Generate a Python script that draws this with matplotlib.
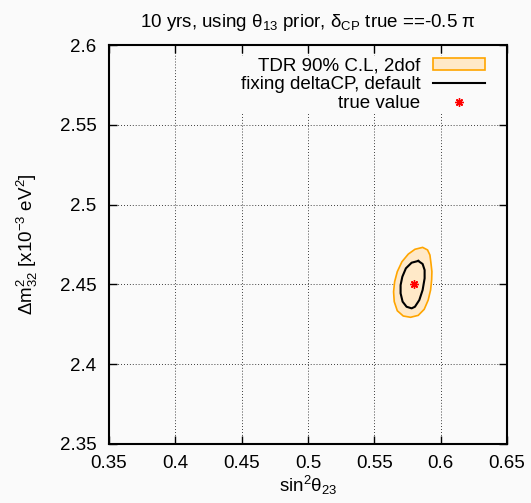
import matplotlib
matplotlib.use("Agg")
import matplotlib.pyplot as plt
from matplotlib.ticker import FuncFormatter

plt.rcParams['font.family'] = ['Liberation Sans', 'DejaVu Sans']
plt.rcParams['mathtext.fontset'] = 'custom'
plt.rcParams['mathtext.rm'] = 'Liberation Sans'
plt.rcParams['mathtext.it'] = 'Liberation Sans'
plt.rcParams['mathtext.default'] = 'rm'

# 90% C.L. contour from TDR (sin^2 theta23, dm2_32)
tdr_x = [0.5864, 0.5901, 0.5919, 0.5927, 0.5934, 0.5932, 0.5924, 0.5906, 0.5876, 0.5831,
         0.5773, 0.5718, 0.5673, 0.5650, 0.5645, 0.5653, 0.5673, 0.5708, 0.5756, 0.5806, 0.5864]
tdr_y = [2.4732, 2.4716, 2.4684, 2.4632, 2.4580, 2.4528, 2.4465, 2.4402, 2.4344, 2.4306,
         2.4294, 2.4302, 2.4335, 2.4392, 2.4454, 2.4517, 2.4580, 2.4642, 2.4690, 2.4720, 2.4732]

# fixing deltaCP, default
fix_x = [0.5831, 0.5864, 0.5879, 0.5879, 0.5864, 0.5839, 0.5806, 0.5781,
         0.5743, 0.5713, 0.5698, 0.5698, 0.5711, 0.5738, 0.5781, 0.5831]
fix_y = [2.4647, 2.4628, 2.4590, 2.4538, 2.4465, 2.4402, 2.4360, 2.4350,
         2.4360, 2.4392, 2.4444, 2.4496, 2.4548, 2.4601, 2.4636, 2.4647]

true_x = [0.58]
true_y = [2.45]

xticks = [0.35, 0.4, 0.45, 0.5, 0.55, 0.6, 0.65]
yticks = [2.35, 2.4, 2.45, 2.5, 2.55, 2.6]

fs = 13.5
bg = '#fafafa'
fig = plt.figure(figsize=(5.31, 5.03), dpi=100, facecolor=bg)
ax = fig.add_axes([0.2053, 0.1173, 0.7495, 0.7932], facecolor=bg)

ax.fill(tdr_x, tdr_y, facecolor='#ffe9c8', edgecolor='#ffa500', lw=1.2,
        label='TDR 90% C.L, 2dof', zorder=2)
ax.plot(fix_x, fix_y, color='black', lw=1.5, label='fixing deltaCP, default', zorder=3)
ax.plot(true_x, true_y, ls='none', marker=(8, 2, 0), color='red', ms=6, mew=1.0,
        label='true value', zorder=4)

ax.set_xlim(0.35, 0.65)
ax.set_ylim(2.35, 2.6)
ax.set_xticks(xticks)
ax.set_yticks(yticks)
fmt = FuncFormatter(lambda v, p: '%g' % v)
ax.xaxis.set_major_formatter(fmt)
ax.yaxis.set_major_formatter(fmt)
ax.tick_params(direction='in', length=6, width=1, top=True, right=True,
               labelsize=fs, colors='black')
ax.tick_params(axis='x', pad=8)
ax.tick_params(axis='y', pad=9)
ax.grid(True, color='black', ls=(0, (1, 2.5)), lw=0.6)
for s in ax.spines.values():
    s.set_linewidth(1.5)

ax.set_xlabel('sin$^2$θ$_{23}$', fontsize=fs, labelpad=1)
ax.set_ylabel('Δm$^2_{32}$ [x10$^{-3}$ eV$^2$]', fontsize=fs, labelpad=14)
ax.set_title('10 yrs, using θ$_{13}$ prior, δ$_{CP}$ true ==-0.5 π', fontsize=fs, pad=13)

leg = ax.legend(loc='upper right', bbox_to_anchor=(0.95, 0.973), markerfirst=False,
                frameon=True, fancybox=False, facecolor=bg, edgecolor='none',
                framealpha=1, fontsize=fs, handlelength=2.8, handleheight=0.55,
                labelspacing=0.08, borderaxespad=0, borderpad=0.1,
                handletextpad=0.65)

fig.savefig('out.png', dpi=100, facecolor=fig.get_facecolor())
